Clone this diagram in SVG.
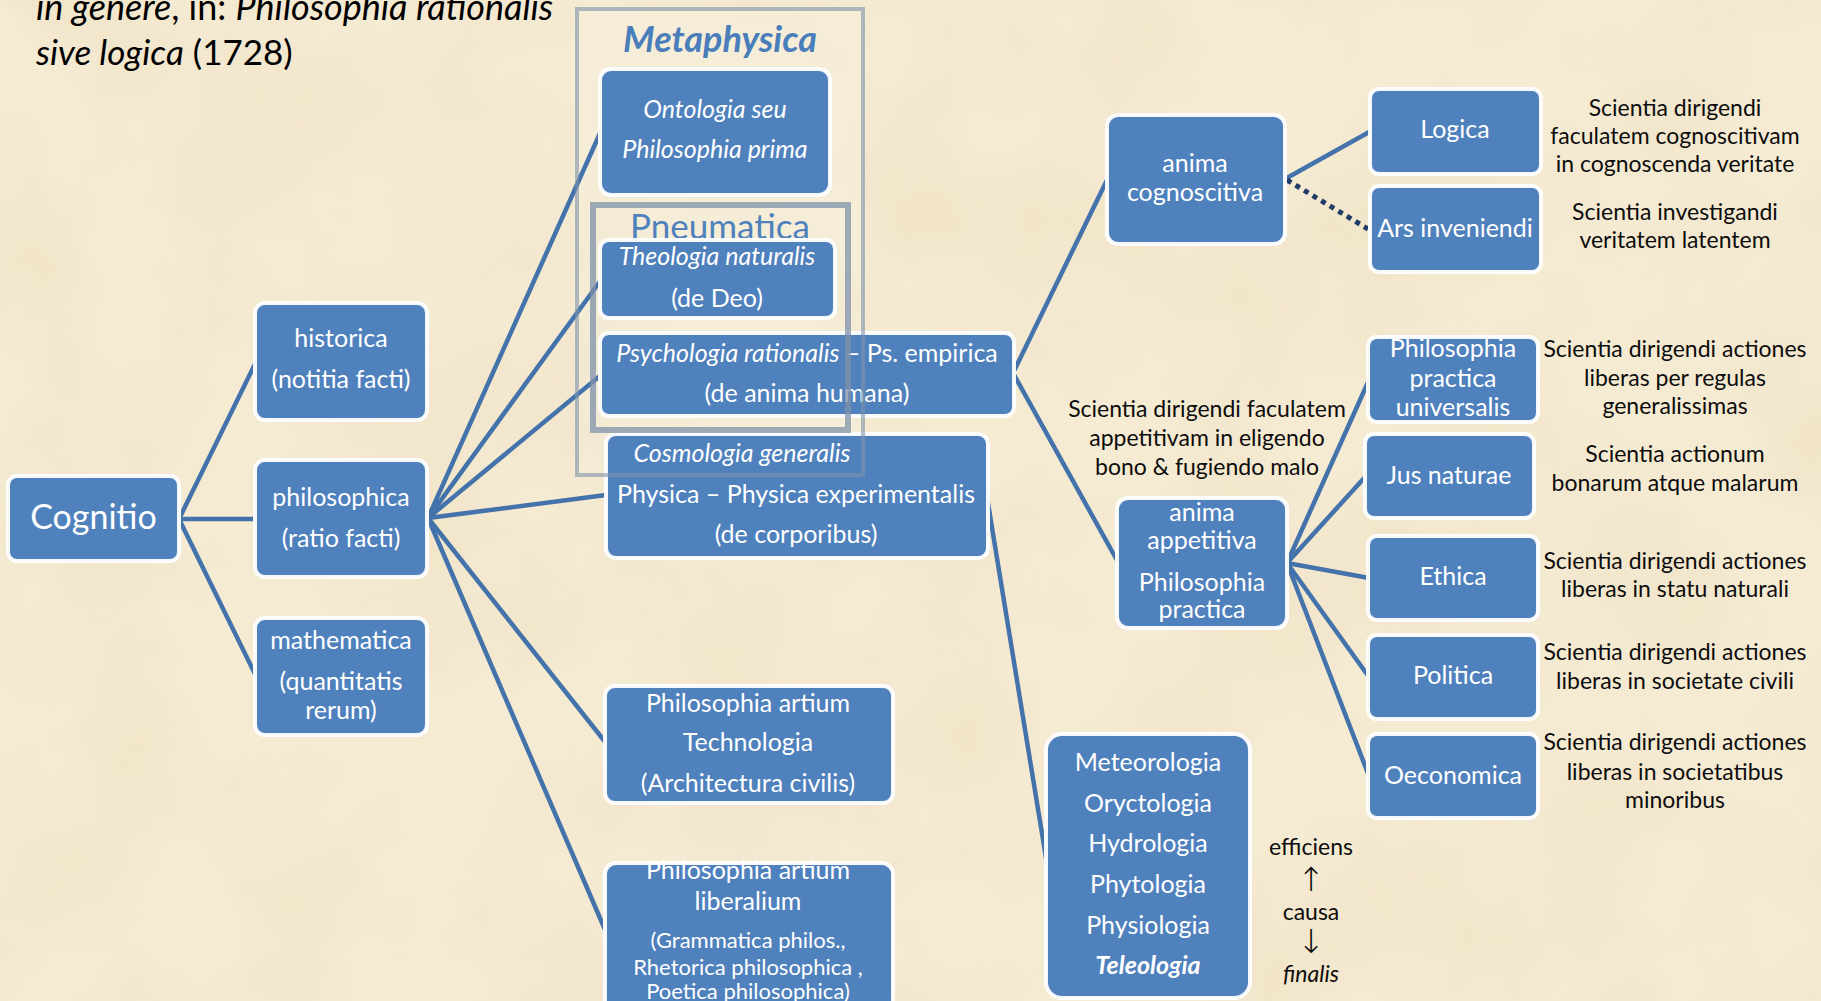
<svg xmlns="http://www.w3.org/2000/svg" width="1821" height="1001" viewBox="0 0 1821 1001">
<defs>
<filter id="paper" x="0" y="0" width="100%" height="100%">
<feTurbulence type="fractalNoise" baseFrequency="0.006" numOctaves="4" seed="7"/>
<feColorMatrix values="0 0 0 0 0.80  0 0 0 0 0.66  0 0 0 0 0.44  0 0 0 1.6 -0.62"/>
</filter>
<style>
.box{fill:#4f81bd;stroke:#ffffff;stroke-width:4;stroke-opacity:0.95}
.bt{fill:#ffffff;font-family:Lato,"Noto Sans",sans-serif;font-size:25px;text-anchor:middle}
.dt{fill:#0d0d0d;font-family:Lato,"Noto Sans",sans-serif;font-size:23px;text-anchor:middle}
.it{font-style:italic}
.ln{stroke:#4472aa;stroke-width:4.5;fill:none;stroke-linecap:round}
.dot{stroke:#1f3b66;stroke-width:5;fill:none;stroke-dasharray:5 5}
.frame{fill:none;stroke:#7f92aa}
.sm{font-size:22px}
.arrow{font-family:"DejaVu Sans",sans-serif;font-size:33px;font-weight:200}
</style>
</defs>
<rect width="1821" height="1001" fill="#f5ebd3"/>
<rect width="1821" height="1001" filter="url(#paper)" opacity="0.4"/>

<g id="title">
<text x="36" y="20" font-family="Lato, 'Noto Sans', sans-serif" font-size="36" fill="#000"><tspan class="it">in genere</tspan>, in: <tspan class="it">Philosophia rationalis</tspan></text>
<text x="36" y="65" font-family="Lato, 'Noto Sans', sans-serif" font-size="35" fill="#000"><tspan class="it">sive logica</tspan> (1728)</text>
</g>

<g id="metaphysica-area">
<rect x="577" y="9" width="286" height="466" fill="#ffffff" fill-opacity="0.14"/>
<text x="720" y="52" font-family="Lato, 'Noto Sans', sans-serif" font-size="36" font-weight="bold" font-style="italic" fill="#4a7ebb" text-anchor="middle">Metaphysica</text>
</g>
<g id="pneumatica-area">
<text x="720" y="239" font-family="Lato, 'Noto Sans', sans-serif" font-size="35" fill="#4f81bd" text-anchor="middle">Pneumatica</text>
</g>

<g id="connectors">
<line class="ln" x1="179" y1="519" x2="256" y2="362"/>
<line class="ln" x1="179" y1="519" x2="257" y2="519"/>
<line class="ln" x1="179" y1="519" x2="256" y2="676"/>
<line class="ln" x1="428" y1="518" x2="601" y2="131"/>
<line class="ln" x1="428" y1="518" x2="601" y2="280"/>
<line class="ln" x1="428" y1="518" x2="601" y2="375"/>
<line class="ln" x1="428" y1="518" x2="606" y2="495"/>
<line class="ln" x1="428" y1="518" x2="606" y2="743"/>
<line class="ln" x1="428" y1="518" x2="606" y2="932"/>
<line class="ln" x1="1013" y1="373" x2="1107" y2="180"/>
<line class="ln" x1="1013" y1="373" x2="1118" y2="562"/>
<line class="ln" x1="987" y1="497" x2="1047" y2="864"/>
<line class="ln" x1="1285" y1="179" x2="1371" y2="131"/>
<line class="dot" x1="1287" y1="180" x2="1368" y2="229"/>
<line class="ln" x1="1287" y1="563" x2="1369" y2="380"/>
<line class="ln" x1="1287" y1="563" x2="1366" y2="476"/>
<line class="ln" x1="1287" y1="563" x2="1369" y2="578"/>
<line class="ln" x1="1287" y1="563" x2="1369" y2="677"/>
<line class="ln" x1="1287" y1="563" x2="1369" y2="776"/>
</g>

<g id="cognitio">
<rect class="box" x="8" y="476" width="171" height="85" rx="9"/>
<text class="bt" x="93.5" y="529" style="font-size:34px">Cognitio</text>
</g>
<g id="historica">
<rect class="box" x="255" y="303" width="172" height="117" rx="10"/>
<text class="bt" x="341" y="347">historica</text>
<text class="bt" x="341" y="388">(notitia facti)</text>
</g>
<g id="philosophica">
<rect class="box" x="255" y="460" width="172" height="117" rx="10"/>
<text class="bt" x="341" y="506">philosophica</text>
<text class="bt" x="341" y="547">(ratio facti)</text>
</g>
<g id="mathematica">
<rect class="box" x="255" y="618" width="172" height="117" rx="10"/>
<text class="bt" x="341" y="649">mathematica</text>
<text class="bt" x="341" y="690">(quantitatis</text>
<text class="bt" x="341" y="719">rerum)</text>
</g>
<g id="ontologia">
<rect class="box" x="600" y="69" width="230" height="126" rx="11"/>
<text class="bt it" x="715" y="118">Ontologia seu</text>
<text class="bt it" x="715" y="158">Philosophia prima</text>
</g>
<g id="theologia">
<rect class="box" x="600" y="240" width="235" height="78" rx="9"/>
<text class="bt it" x="717" y="265">Theologia naturalis</text>
<text class="bt" x="717" y="307">(de Deo)</text>
</g>
<g id="psychologia">
<rect class="box" x="600" y="333" width="414" height="83" rx="9"/>
<text class="bt" x="807" y="362"><tspan class="it">Psychologia rationalis</tspan> – Ps. empirica</text>
<text class="bt" x="807" y="402">(de anima humana)</text>
</g>
<g id="cosmologia">
<rect class="box" x="606" y="434" width="382" height="124" rx="10"/>
<text class="bt it" x="742" y="462">Cosmologia generalis</text>
<text class="bt" x="796" y="503">Physica – Physica experimentalis</text>
<text class="bt" x="796" y="543">(de corporibus)</text>
</g>
<g id="technologia">
<rect class="box" x="605" y="686" width="288" height="117" rx="10"/>
<text class="bt" x="748" y="712">Philosophia artium</text>
<text class="bt" x="748" y="751">Technologia</text>
<text class="bt" x="748" y="792">(Architectura civilis)</text>
</g>
<g id="liberalium">
<rect class="box" x="605" y="863" width="288" height="160" rx="11"/>
<text class="bt" x="748" y="879">Philosophia artium</text>
<text class="bt" x="748" y="910">liberalium</text>
<text class="bt sm" x="748" y="948">(Grammatica philos.,</text>
<text class="bt sm" x="748" y="975">Rhetorica philosophica ,</text>
<text class="bt sm" x="748" y="999">Poetica philosophica)</text>
</g>

<g id="metaphysica-frame">
<rect class="frame" x="577" y="9" width="286" height="466" stroke-width="4" stroke-opacity="0.6"/>
</g>
<g id="pneumatica-frame">
<rect class="frame" x="593" y="205" width="255" height="225" stroke-width="6" stroke-opacity="0.75"/>
</g>

<g id="anima-cognoscitiva">
<rect class="box" x="1107" y="115" width="178" height="129" rx="11"/>
<text class="bt" x="1195" y="172">anima</text>
<text class="bt" x="1195" y="201">cognoscitiva</text>
</g>
<g id="logica">
<rect class="box" x="1370" y="89" width="171" height="85" rx="9"/>
<text class="bt" x="1455" y="138">Logica</text>
</g>
<g id="ars-inveniendi">
<rect class="box" x="1370" y="186" width="171" height="86" rx="9"/>
<text class="bt" x="1455" y="237">Ars inveniendi</text>
</g>
<g id="ph-practica-universalis">
<rect class="box" x="1368" y="337" width="170" height="85" rx="9"/>
<text class="bt" x="1453" y="357">Philosophia</text>
<text class="bt" x="1453" y="387">practica</text>
<text class="bt" x="1453" y="416">universalis</text>
</g>
<g id="jus-naturae">
<rect class="box" x="1365" y="434" width="169" height="84" rx="9"/>
<text class="bt" x="1449" y="484">Jus naturae</text>
</g>
<g id="anima-appetitiva">
<rect class="box" x="1117" y="498" width="170" height="130" rx="11"/>
<text class="bt" x="1202" y="521">anima</text>
<text class="bt" x="1202" y="549">appetitiva</text>
<text class="bt" x="1202" y="591">Philosophia</text>
<text class="bt" x="1202" y="618">practica</text>
</g>
<g id="ethica">
<rect class="box" x="1368" y="536" width="170" height="84" rx="9"/>
<text class="bt" x="1453" y="585">Ethica</text>
</g>
<g id="politica">
<rect class="box" x="1368" y="635" width="170" height="84" rx="9"/>
<text class="bt" x="1453" y="684">Politica</text>
</g>
<g id="oeconomica">
<rect class="box" x="1368" y="734" width="170" height="84" rx="9"/>
<text class="bt" x="1453" y="784">Oeconomica</text>
</g>
<g id="meteorologia">
<rect class="box" x="1046" y="734" width="204" height="264" rx="16"/>
<text class="bt" x="1148" y="771">Meteorologia</text>
<text class="bt" x="1148" y="812">Oryctologia</text>
<text class="bt" x="1148" y="852">Hydrologia</text>
<text class="bt" x="1148" y="893">Phytologia</text>
<text class="bt" x="1148" y="934">Physiologia</text>
<text class="bt it" x="1148" y="974" font-weight="bold">Teleologia</text>
</g>

<g id="descriptions">
<text class="dt" x="1675" y="116">Scientia dirigendi</text>
<text class="dt" x="1675" y="144">faculatem cognoscitivam</text>
<text class="dt" x="1675" y="172">in cognoscenda veritate</text>
<text class="dt" x="1675" y="220">Scientia investigandi</text>
<text class="dt" x="1675" y="248">veritatem latentem</text>
<text class="dt" x="1675" y="357">Scientia dirigendi actiones</text>
<text class="dt" x="1675" y="386">liberas per regulas</text>
<text class="dt" x="1675" y="414">generalissimas</text>
<text class="dt" x="1675" y="462">Scientia actionum</text>
<text class="dt" x="1675" y="491">bonarum atque malarum</text>
<text class="dt" x="1675" y="569">Scientia dirigendi actiones</text>
<text class="dt" x="1675" y="597">liberas in statu naturali</text>
<text class="dt" x="1675" y="660">Scientia dirigendi actiones</text>
<text class="dt" x="1675" y="689">liberas in societate civili</text>
<text class="dt" x="1675" y="750">Scientia dirigendi actiones</text>
<text class="dt" x="1675" y="780">liberas in societatibus</text>
<text class="dt" x="1675" y="808">minoribus</text>
<text class="dt" x="1207" y="417">Scientia dirigendi faculatem</text>
<text class="dt" x="1207" y="446">appetitivam in eligendo</text>
<text class="dt" x="1207" y="475">bono &amp; fugiendo malo</text>
</g>
<g id="causa">
<text class="dt" x="1311" y="855">efficiens</text>
<text class="dt arrow" x="1311" y="891">↑</text>
<text class="dt" x="1311" y="920">causa</text>
<text class="dt arrow" x="1311" y="953">↓</text>
<text class="dt it" x="1311" y="982">finalis</text>
</g>
</svg>
